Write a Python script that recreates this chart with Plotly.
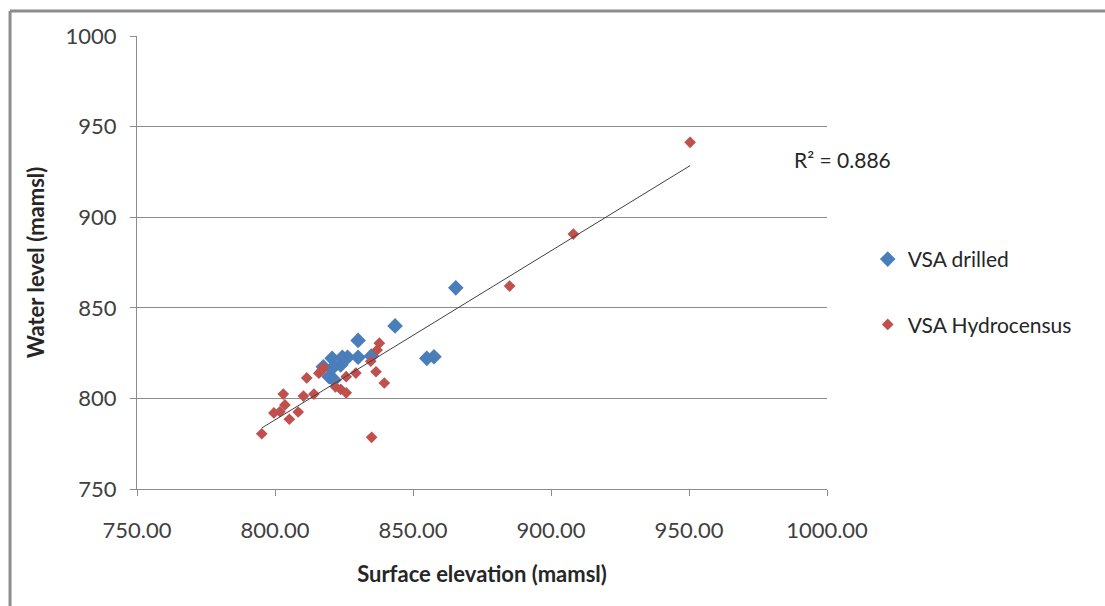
import numpy as np
import plotly.graph_objects as go

# Surface elevation vs water level (mamsl)
drilled_x = [865.5, 843.5, 830.1, 855.0, 857.6, 820.7, 824.4, 826.3, 830.1, 834.9,
             817.5, 820.7, 823.8, 819.6, 821.4]
drilled_y = [861.0, 840.0, 832.0, 822.1, 823.0, 822.1, 822.7, 822.7, 822.7, 823.4,
             817.5, 816.6, 818.4, 812.0, 810.2]

hydro_x = [795.2, 799.6, 801.8, 803.0, 803.6, 805.2, 808.4, 810.3, 811.5, 814.1,
           815.9, 816.9, 817.5, 821.9, 823.8, 825.8, 825.8, 829.3, 834.7, 836.6,
           837.0, 837.8, 839.6, 835.0, 885.0, 908.1, 950.4]
hydro_y = [780.5, 792.0, 792.7, 802.4, 796.4, 788.5, 792.5, 801.3, 811.3, 802.4,
           813.9, 815.5, 817.0, 806.4, 805.0, 803.1, 812.0, 814.0, 820.5, 814.7,
           826.7, 830.5, 808.5, 778.5, 862.0, 890.7, 941.3]

x_ticks = [750, 800, 850, 900, 950, 1000]
x_tick_text = ["750.00", "800.00", "850.00", "900.00", "950.00", "1000.00"]
y_ticks = [750, 800, 850, 900, 950, 1000]
r2_text = "R² = 0.886"

BLUE = "#4a7ebb"
RED = "#c0504d"
FONT = "Lato, 'Open Sans', sans-serif"

# linear trend through the hydrocensus points
slope, intercept = np.polyfit(hydro_x, hydro_y, 1)
trend_x = np.array([min(hydro_x), max(hydro_x)])
trend_y = slope * trend_x + intercept

fig = go.Figure()
fig.add_trace(go.Scatter(
    x=drilled_x, y=drilled_y, mode="markers", name="VSA drilled",
    legendgroup="a",
    marker=dict(symbol="diamond", size=12, color=BLUE),
))
fig.add_trace(go.Scatter(
    x=hydro_x, y=hydro_y, mode="markers", name="VSA Hydrocensus",
    legendgroup="b",
    marker=dict(symbol="diamond", size=9, color=RED),
))
fig.add_trace(go.Scatter(
    x=trend_x, y=trend_y, mode="lines", showlegend=False,
    line=dict(color="#404040", width=1), hoverinfo="skip",
))

fig.add_annotation(
    x=987.3, y=931.6, xref="x", yref="y", text=r2_text, showarrow=False,
    xanchor="left", yanchor="middle",
    font=dict(family=FONT, size=21, color="#262626"),
)

# chart-area frame (top and left edges)
frame = dict(color="#8c8c8c", width=3)
fig.add_shape(type="line", xref="paper", yref="paper",
              x0=-0.184, x1=-0.184, y0=-0.35, y1=1.055, line=frame)
fig.add_shape(type="line", xref="paper", yref="paper",
              x0=-0.184, x1=1.45, y0=1.055, y1=1.055, line=frame)

axis_common = dict(
    showline=True, linecolor="#8c8c8c", linewidth=1,
    ticks="outside", ticklen=6, tickcolor="#8c8c8c", tickwidth=1,
    zeroline=False,
    tickfont=dict(family=FONT, size=22, color="#404040"),
)

fig.update_xaxes(
    range=[750, 1000], tickvals=x_ticks, ticktext=x_tick_text,
    showgrid=False, ticklabelstandoff=16,
    title=dict(text="<b>Surface elevation (mamsl)</b>",
               font=dict(family=FONT, size=22, color="#262626"), standoff=24),
    **axis_common,
)
fig.update_yaxes(
    range=[750, 1000], tickvals=y_ticks,
    showgrid=True, gridcolor="#8c8c8c", gridwidth=1, ticklabelstandoff=9,
    title=dict(text="<b>Water level (mamsl)</b>",
               font=dict(family=FONT, size=22, color="#262626"), standoff=14),
    **axis_common,
)

fig.update_layout(
    width=1105, height=606,
    margin=dict(l=137, r=278, t=36, b=117),
    plot_bgcolor="white", paper_bgcolor="white",
    legend=dict(
        x=1.059, y=0.435, xanchor="left", yanchor="middle",
        font=dict(family=FONT, size=21, color="#262626"),
        tracegroupgap=35, traceorder="grouped",
        bgcolor="rgba(0,0,0,0)",
    ),
)

fig.write_html("out.html")
